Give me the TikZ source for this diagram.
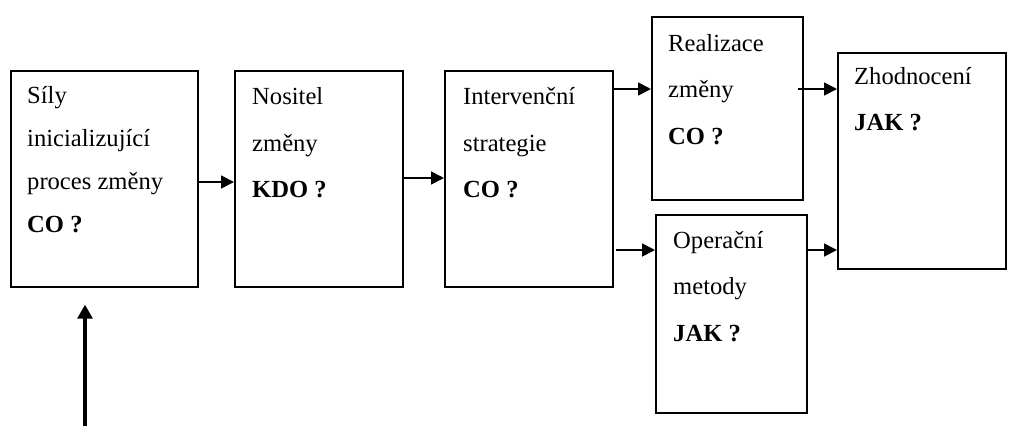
\documentclass[tikz,border=0pt]{standalone}
\usepackage{fontspec}
\setmainfont{Liberation Serif}
\usetikzlibrary{arrows.meta}
\begin{document}
\begin{tikzpicture}[x=1pt,y=-1pt,
  box/.style={draw=black,line width=1.7pt,anchor=north west,inner sep=0pt},
  lbl/.style={anchor=base west,inner sep=0pt,font=\fontsize{24.6}{28}\selectfont},
  blbl/.style={lbl,font=\fontsize{24.6}{28}\selectfont\bfseries},
  arr/.style={line width=1.8pt,-{Triangle[length=13pt,width=13pt]}},
  bigarr/.style={line width=3.2pt,-{Triangle[length=14pt,width=15pt]}}]
\useasboundingbox (0,0) rectangle (1023,426);
\fill[white] (0,0) rectangle (1023,426);

% process boxes
\node[box,minimum width=187pt,minimum height=216pt] (b1) at (10,70) {};
\node[box,minimum width=168pt,minimum height=216pt] (b2) at (234,70) {};
\node[box,minimum width=168pt,minimum height=216pt] (b3) at (444,70) {};
\node[box,minimum width=151pt,minimum height=183pt] (b4) at (651,16) {};
\node[box,minimum width=151pt,minimum height=198pt] (b5) at (655,214) {};
\node[box,minimum width=168pt,minimum height=216pt] (b6) at (837,52) {};

% box texts
\node[lbl]  (t11) at (27,103) {Síly};
\node[lbl]  (t12) at (27,146) {inicializující};
\node[lbl]  (t13) at (27,189) {proces změny};
\node[blbl] (t14) at (27,232) {CO ?};

\node[lbl]  (t21) at (252,104) {Nositel};
\node[lbl]  (t22) at (252,151) {změny};
\node[blbl] (t23) at (252,197) {KDO ?};

\node[lbl]  (t31) at (463,104) {Intervenční};
\node[lbl]  (t32) at (463,151) {strategie};
\node[blbl] (t33) at (463,197) {CO ?};

\node[lbl]  (t41) at (668,51) {Realizace};
\node[lbl]  (t42) at (668,97) {změny};
\node[blbl] (t43) at (668,144) {CO ?};

\node[lbl]  (t51) at (673,248) {Operační};
\node[lbl]  (t52) at (673,294) {metody};
\node[blbl] (t53) at (673,341) {JAK ?};

\node[lbl]  (t61) at (854,84) {Zhodnocení};
\node[blbl] (t62) at (854,130) {JAK ?};

% arrow start points on the box edges
\coordinate (a1) at (197,182);
\coordinate (a2) at (402,178);
\coordinate (a3) at (613,89);
\coordinate (a4) at (616,250);
\coordinate (a5) at (798,89);
\coordinate (a6) at (807,250);
\coordinate (a7) at (85,426);

\draw[arr] (a1) -- (a1 -| b2.west);
\draw[arr] (a2) -- (a2 -| b3.west);
\draw[arr] (a3) -- (a3 -| b4.west);
\draw[arr] (a4) -- (a4 -| b5.west);
\draw[arr] (a5) -- (a5 -| b6.west);
\draw[arr] (a6) -- (a6 -| b6.west);
\draw[bigarr] (a7) -- ([yshift=-17pt]a7 |- b1.south);
\end{tikzpicture}
\end{document}
